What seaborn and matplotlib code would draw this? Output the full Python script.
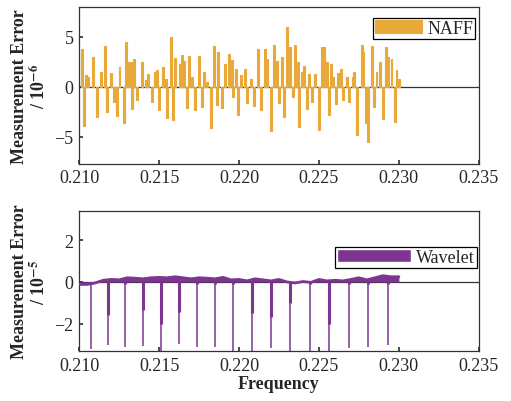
import numpy as np
import pandas as pd
import matplotlib
matplotlib.use("Agg")
import matplotlib.pyplot as plt
import seaborn as sns

# NAFF measurement error (x 1e-6) at each sampled frequency
naff_freq = [
    0.21017, 0.21031, 0.21044, 0.21054, 0.21085, 0.21110, 0.21138, 0.21163, 0.21173, 0.21200,
    0.21215, 0.21235, 0.21252, 0.21281, 0.21294, 0.21308, 0.21323, 0.21329, 0.21340, 0.21360,
    0.21392, 0.21417, 0.21433, 0.21454, 0.21471, 0.21485, 0.21502, 0.21523, 0.21542, 0.21552,
    0.21573, 0.21585, 0.21600, 0.21631, 0.21642, 0.21658, 0.21673, 0.21688, 0.21704, 0.21725,
    0.21750, 0.21767, 0.21781, 0.21798, 0.21825, 0.21842, 0.21860, 0.21871, 0.21896, 0.21913,
    0.21940, 0.21954, 0.21965, 0.21979, 0.21996, 0.22010, 0.22038, 0.22052, 0.22073, 0.22094,
    0.22121, 0.22138, 0.22163, 0.22173, 0.22198, 0.22219, 0.22235, 0.22250, 0.22267, 0.22281,
    0.22302, 0.22319, 0.22335, 0.22350, 0.22367, 0.22375, 0.22392, 0.22406, 0.22423, 0.22440,
    0.22454, 0.22475, 0.22502, 0.22517, 0.22531, 0.22548, 0.22562, 0.22575, 0.22590, 0.22606,
    0.22621, 0.22638, 0.22652, 0.22673, 0.22690, 0.22710, 0.22719, 0.22740, 0.22767, 0.22777,
    0.22792, 0.22808, 0.22829, 0.22846, 0.22860, 0.22881, 0.22902, 0.22917, 0.22933, 0.22954,
    0.22975, 0.22985, 0.23000,
]
naff_err = [
    3.8, -3.9, 1.2, 1.0, 3.0, -3.0, 1.5, 4.1, -2.5, 1.4,
    -1.5, -2.9, 2.0, -3.6, 4.5, 2.5, 2.5, -2.2, 2.8, -1.3,
    2.5, 0.7, 1.3, -1.5, 1.5, 1.7, -2.3, 2.0, 0.8, -3.1,
    5.0, -3.3, 2.9, 2.3, 3.2, 2.6, -2.1, 3.1, 1.0, -2.3,
    3.1, -2.0, 1.5, 0.5, -4.1, 4.1, -1.8, 3.5, -2.1, 2.3,
    3.3, 2.7, -1.0, 1.8, -2.8, 1.2, 1.8, -1.6, 0.8, -1.9,
    3.8, -2.3, 3.8, 2.8, -4.4, 4.2, 2.6, -1.6, 3.0, -3.0,
    6.0, 4.0, -1.0, 4.2, 2.5, -4.0, 1.5, 2.1, -2.2, 1.3,
    -1.5, 1.3, -4.3, 4.0, 4.0, 2.5, -2.8, 2.3, 1.0, -1.7,
    1.4, 1.8, -1.3, 1.0, -1.5, 1.0, 1.5, -4.8, 4.2, 3.5,
    -3.6, -5.5, 4.1, -2.0, 1.5, 2.5, -3.2, 4.0, 3.0, 2.8,
    -3.5, 1.7, 0.8,
]

# Wavelet measurement error (x 1e-5): slowly varying baseline ...
band_freq = [
    0.2100, 0.2105, 0.2110, 0.2115, 0.2120, 0.2125, 0.2130, 0.2135, 0.2140, 0.2145,
    0.2150, 0.2155, 0.2160, 0.2165, 0.2170, 0.2175, 0.2180, 0.2185, 0.2190, 0.2195,
    0.2200, 0.2205, 0.2210, 0.2215, 0.2220, 0.2225, 0.2230, 0.2235, 0.2240, 0.2245,
    0.2250, 0.2255, 0.2260, 0.2265, 0.2270, 0.2275, 0.2280, 0.2285, 0.2290, 0.2295,
    0.2300,
]
band_err = [
    -0.12, -0.12, -0.05, 0.08, 0.12, 0.10, 0.20, 0.18, 0.15, 0.20,
    0.22, 0.20, 0.25, 0.20, 0.15, 0.20, 0.18, 0.15, 0.22, 0.10,
    0.12, 0.05, 0.15, 0.10, 0.05, 0.12, 0.00, -0.05, 0.02, -0.02,
    0.12, 0.05, 0.08, 0.05, 0.12, 0.20, 0.10, 0.20, 0.30, 0.25,
    0.25,
]
# ... and narrow negative spikes (full depth and the wider upper part)
spike_freq = [
    0.21071, 0.21179, 0.21288, 0.21398, 0.21513, 0.21625, 0.21738, 0.21848, 0.21964,
    0.22081, 0.22200, 0.22319, 0.22442, 0.22564, 0.22686, 0.22808, 0.22931,
]
spike_err = [
    -3.25, -3.02, -3.13, -3.10, -3.6, -3.00, -3.13, -3.13, -3.6,
    -3.6, -3.18, -3.6, -3.6, -3.6, -3.20, -3.13, -3.05,
]
spike_core = [
    -0.1, -1.6, -0.1, -1.35, -2.0, -1.45, -0.1, -0.1, -0.1,
    -1.5, -1.7, -1.0, -0.1, -2.0, -0.1, -0.1, -0.1,
]

naff_color = "#E9A93A"
wave_color = "#7D3592"

sns.set_theme(style="ticks")
plt.rcParams["font.family"] = ["Liberation Serif", "DejaVu Serif"]
plt.rcParams["mathtext.fontset"] = "stix"

fig = plt.figure(figsize=(5.11, 4.02), dpi=100)
ax1 = fig.add_axes([0.155, 0.590, 0.782, 0.390])
ax2 = fig.add_axes([0.155, 0.124, 0.782, 0.349])

naff = pd.DataFrame({"freq": naff_freq, "err": naff_err})
band = pd.DataFrame({"freq": band_freq, "err": band_err})

# Top panel: NAFF
ax1.axhline(0, color="#333333", lw=0.9, zorder=1)
ax1.bar(naff["freq"], naff["err"], width=0.00012, color=naff_color,
        edgecolor=naff_color, linewidth=0.8, label="NAFF", zorder=2)
ax1.set_ylim(-7.7, 8.0)
ax1.set_yticks([-5, 0, 5])
ax1.set_yticklabels(["\u22125", "0", "5"])
ax1.set_ylabel("Measurement Error\n/ 10$^{\\mathbf{-6}}$", fontsize=13,
               fontweight="bold", linespacing=1.1)

# Bottom panel: Wavelet
ax2.axhline(0, color="#333333", lw=0.9, zorder=1)
ax2.fill_between(band["freq"], 0, band["err"], color=wave_color, lw=0, zorder=2)
sns.lineplot(data=band, x="freq", y="err", ax=ax2, color=wave_color,
             lw=2.0, zorder=3, legend=False)
ax2.vlines(spike_freq, 0, spike_err, color=wave_color, lw=1.1, zorder=2)
ax2.vlines(spike_freq, 0, spike_core, color=wave_color, lw=2.2, zorder=2)
ax2.bar([np.nan], [np.nan], color=wave_color, label="Wavelet")
ax2.set_ylim(-3.33, 3.42)
ax2.set_yticks([-2, 0, 2])
ax2.set_yticklabels(["\u22122", "0", "2"])
ax2.set_ylabel("Measurement Error\n/ 10$^{\\mathbf{-5}}$", fontsize=13,
               fontweight="bold", linespacing=1.1)
ax2.set_xlabel("Frequency", fontsize=13, fontweight="bold", labelpad=1)

for ax in (ax1, ax2):
    ax.set_xlim(0.210, 0.235)
    ax.set_xticks([0.210, 0.215, 0.220, 0.225, 0.230, 0.235])
    ax.set_xticklabels(["0.210", "0.215", "0.220", "0.225", "0.230", "0.235"])
    ax.tick_params(direction="in", length=3, labelsize=13, color="#333333", pad=4)
    for s in ax.spines.values():
        s.set_color("#333333")
        s.set_linewidth(0.9)

ax1.legend(loc="upper right", bbox_to_anchor=(0.99, 0.93), fontsize=13,
           frameon=True, fancybox=False, edgecolor="black", handlelength=2.6,
           handleheight=0.7, borderpad=0.1, handletextpad=0.3, borderaxespad=0,
           framealpha=1)
ax2.legend(loc="center right", bbox_to_anchor=(0.995, 0.67), fontsize=13,
           frameon=True, fancybox=False, edgecolor="black", handlelength=4.1,
           handleheight=0.8, borderpad=0.1, handletextpad=0.3, borderaxespad=0,
           framealpha=1)
for leg in (ax1.get_legend(), ax2.get_legend()):
    leg.get_frame().set_linewidth(0.9)

fig.savefig("out.png", dpi=100)
